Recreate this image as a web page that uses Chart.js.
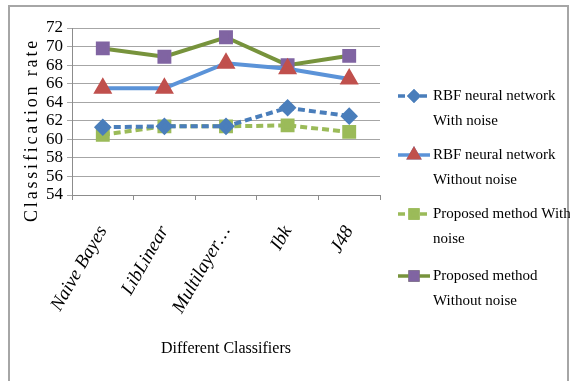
<!DOCTYPE html>
<html>
<head>
<meta charset="utf-8">
<script src="https://cdn.jsdelivr.net/npm/chart.js@4"></script>
<style>
  html, body { margin: 0; padding: 0; background: #fff; }
  #wrap { position: absolute; left: 0; top: 0; width: 570px; height: 381px; }
  #frame { position: absolute; left: 8px; top: 5px; width: 561px; height: 380px;
           border: 2px solid #a6a6a6; box-sizing: border-box; }
  canvas { position: absolute; left: 0; top: 0; }
</style>
</head>
<body>
<div id="wrap">
  <div id="frame"></div>
  <canvas id="chart" width="570" height="381"></canvas>
</div>
<script>
// ---- data ----
const categories = ["Naive Bayes", "LibLinear", "Multilayer\u2026", "Ibk", "J48"];
const rbfWithNoise = [61.3, 61.4, 61.4, 63.4, 62.5];
const rbfWithoutNoise = [65.5, 65.5, 68.2, 67.6, 66.5];
const propWithNoise = [60.5, 61.4, 61.4, 61.5, 60.8];
const propWithoutNoise = [69.8, 68.9, 71.0, 68.0, 69.0];
const yTicks = { min: 54, max: 72, step: 2 };
const yTitle = "Classification rate";
const legendLabels = [
    ["RBF neural network", "With noise"],
    ["RBF neural network", "Without noise"],
    ["Proposed method With", "noise"],
    ["Proposed method", "Without noise"]
];

const serif = "'Liberation Serif', 'Times New Roman', serif";

// legend on the right (two lines per entry) + stretched y title
const sideLegend = {
    id: "sideLegend",
    afterDraw(chart) {
        const ctx = chart.ctx;
        const x0 = 398, x1 = 430, tx = 433;
        const rows = [96, 155, 214, 276];
        ctx.save();
        chart.data.datasets.forEach((ds, i) => {
            const y = rows[i];
            ctx.beginPath();
            ctx.strokeStyle = ds.borderColor;
            ctx.lineWidth = 3.5;
            ctx.setLineDash(ds.borderDash || []);
            ctx.moveTo(x0, y);
            ctx.lineTo(x1, y);
            ctx.stroke();
            ctx.setLineDash([]);
            Chart.helpers.drawPoint(ctx, {
                pointStyle: ds.pointStyle,
                radius: ds.pointRadius - 1.5,
                borderWidth: 1
            }, (x0 + x1) / 2, y);
            ctx.fillStyle = ds.pointBackgroundColor;
            ctx.strokeStyle = ds.pointBorderColor;
            ctx.fill();
            ctx.stroke();
            ctx.fillStyle = "#000";
            ctx.font = "15px " + serif;
            ctx.textBaseline = "middle";
            ctx.textAlign = "left";
            ctx.fillText(legendLabels[i][0], tx, y);
            ctx.fillText(legendLabels[i][1], tx, y + 25);
        });

        // y axis title, stretched to the length it has in the picture
        ctx.font = "18px " + serif;
        const natural = ctx.measureText(yTitle).width;
        const wanted = 184;
        ctx.letterSpacing = ((wanted - natural) / yTitle.length).toFixed(2) + "px";
        ctx.translate(32, 130);
        ctx.rotate(-Math.PI / 2);
        ctx.textAlign = "center";
        ctx.textBaseline = "middle";
        ctx.fillStyle = "#000";
        ctx.fillText(yTitle, 0, 0);
        ctx.restore();
    }
};

new Chart(document.getElementById("chart"), {
    type: "line",
    data: {
        labels: categories,
        datasets: [
            {
                label: legendLabels[0].join(" "),
                data: rbfWithNoise,
                borderColor: "#4a7ebb",
                borderWidth: 4,
                borderDash: [7, 4],
                pointStyle: "rectRot",
                pointRadius: 6,
                pointBackgroundColor: "#4a7ebb",
                pointBorderColor: "#4a7ebb"
            },
            {
                label: legendLabels[1].join(" "),
                data: rbfWithoutNoise,
                borderColor: "#5b93d8",
                borderWidth: 4,
                pointStyle: "triangle",
                pointRadius: 7,
                pointBackgroundColor: "#c0504d",
                pointBorderColor: "#c0504d"
            },
            {
                label: legendLabels[2].join(" "),
                data: propWithNoise,
                borderColor: "#9bbb59",
                borderWidth: 4,
                borderDash: [7, 4],
                pointStyle: "rect",
                pointRadius: 7,
                pointBackgroundColor: "#9bbb59",
                pointBorderColor: "#9bbb59"
            },
            {
                label: legendLabels[3].join(" "),
                data: propWithoutNoise,
                borderColor: "#77933c",
                borderWidth: 4,
                pointStyle: "rect",
                pointRadius: 7,
                pointBackgroundColor: "#8064a2",
                pointBorderColor: "#8064a2"
            }
        ]
    },
    options: {
        responsive: false,
        animation: false,
        layout: { padding: { left: 42, top: 28, right: 190, bottom: 19 } },
        plugins: {
            legend: { display: false },
            tooltip: { enabled: false }
        },
        scales: {
            x: {
                offset: true,
                grid: {
                    offset: true,
                    drawOnChartArea: false,
                    drawTicks: true,
                    tickLength: 5,
                    color: "#8c8c8c"
                },
                border: { color: "#8c8c8c" },
                ticks: {
                    color: "#000",
                    minRotation: 60,
                    maxRotation: 60,
                    autoSkip: false,
                    padding: 22,
                    font: { family: serif, size: 19, style: "italic" }
                },
                title: {
                    display: true,
                    text: "Different Classifiers",
                    color: "#000",
                    font: { family: serif, size: 16 },
                    padding: { top: 13 }
                }
            },
            y: {
                min: yTicks.min,
                max: yTicks.max,
                ticks: {
                    stepSize: yTicks.step,
                    autoSkip: false,
                    color: "#000",
                    padding: 4,
                    font: { family: serif, size: 17 }
                },
                grid: { color: "#a6a6a6", tickLength: 5 },
                border: { color: "#8c8c8c" }
            }
        }
    },
    plugins: [sideLegend]
});
</script>
</body>
</html>
